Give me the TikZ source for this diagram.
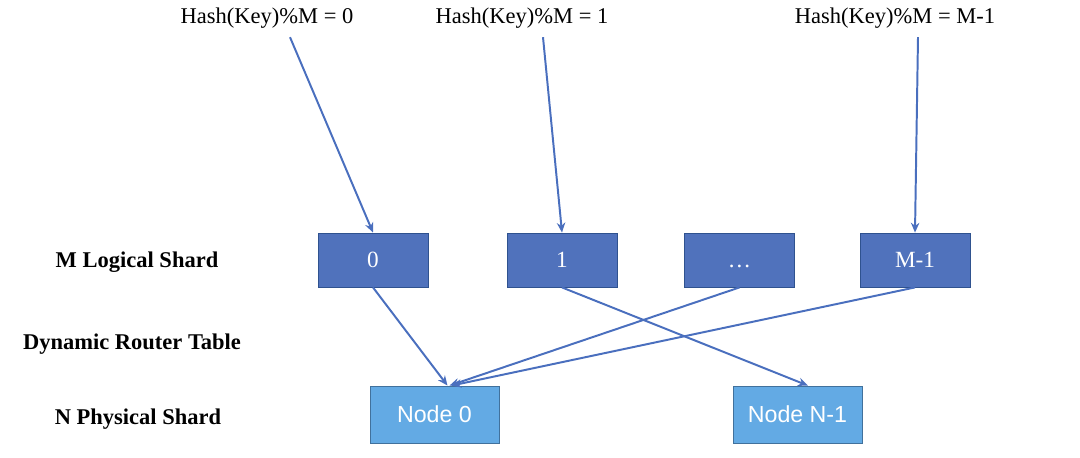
\documentclass[tikz,border=0pt]{standalone}
\usepackage{fontspec}
\setmainfont{Liberation Serif}
\newfontfamily\nodefont{Liberation Sans}
\usepackage{tikz}
\usetikzlibrary{arrows.meta,positioning}
\definecolor{lsfill}{HTML}{5072BC}
\definecolor{lsborder}{HTML}{2F528F}
\definecolor{psfill}{HTML}{63AAE4}
\definecolor{psborder}{HTML}{41719C}
\definecolor{linkblue}{HTML}{4A6FBE}

\begin{document}
\begin{tikzpicture}[x=.025cm,y=-.025cm,
  lshard/.style={draw=lsborder,fill=lsfill,text=white,line width=.6pt,
    minimum width=2.75cm,minimum height=1.35cm,inner sep=0pt,
    text height=11pt,text depth=0pt,
    font=\fontsize{16.5}{19}\selectfont},
  pshard/.style={draw=psborder,fill=psfill,text=white,line width=.6pt,
    minimum width=3.225cm,minimum height=1.425cm,inner sep=0pt,
    font=\nodefont\fontsize{16.5}{19}\selectfont},
  level/.style={font=\bfseries\fontsize{16}{19}\selectfont},
  link/.style={draw=linkblue,line width=1.4pt,-{Stealth[length=7pt,width=6pt]}}]
  \useasboundingbox (0,0) rectangle (1080,458);
  % hash buckets
  \foreach \x/\name/\txt in {267/hash0/0,522/hash1/1,895/hashM/M-1}
    \node[font=\fontsize{16}{19}\selectfont] (\name) at (\x,18) {Hash(Key)\%M = \txt};
  % logical shards
  \foreach \x/\name/\txt in {373/ls0/0,562/ls1/1,739.5/lsd/…,915/lsM/M-1}
    \node[lshard] (\name) at (\x,260) {\txt};
  % physical shards
  \node[pshard] (pn0) at (434.5,414.5) {Node 0};
  \node[pshard] (pnN) at (797.5,414.5) {Node N-1};
  % row labels
  \node[level] (lblL) at (137,262) {M Logical Shard};
  \node[level] (lblR) at (132,344) {Dynamic Router Table};
  \node[level] (lblP) at (138,419) {N Physical Shard};
  % hash -> logical
  \draw[link] ([xshift=.575cm,yshift=-.1cm]hash0.south) -- (ls0.north);
  \draw[link] ([xshift=.525cm,yshift=-.1cm]hash1.south) -- (ls1.north);
  \draw[link] ([xshift=.575cm,yshift=-.1cm]hashM.south) -- (lsM.north);
  % logical -> physical
  \draw[link] (ls0.south) -- ([xshift=.325cm]pn0.north);
  \draw[link] (lsd.south) -- ([xshift=.375cm]pn0.north);
  \draw[link] (lsM.south) -- ([xshift=.425cm]pn0.north);
  \draw[link] (ls1.south) -- ([xshift=.26cm]pnN.north);
\end{tikzpicture}
\end{document}
